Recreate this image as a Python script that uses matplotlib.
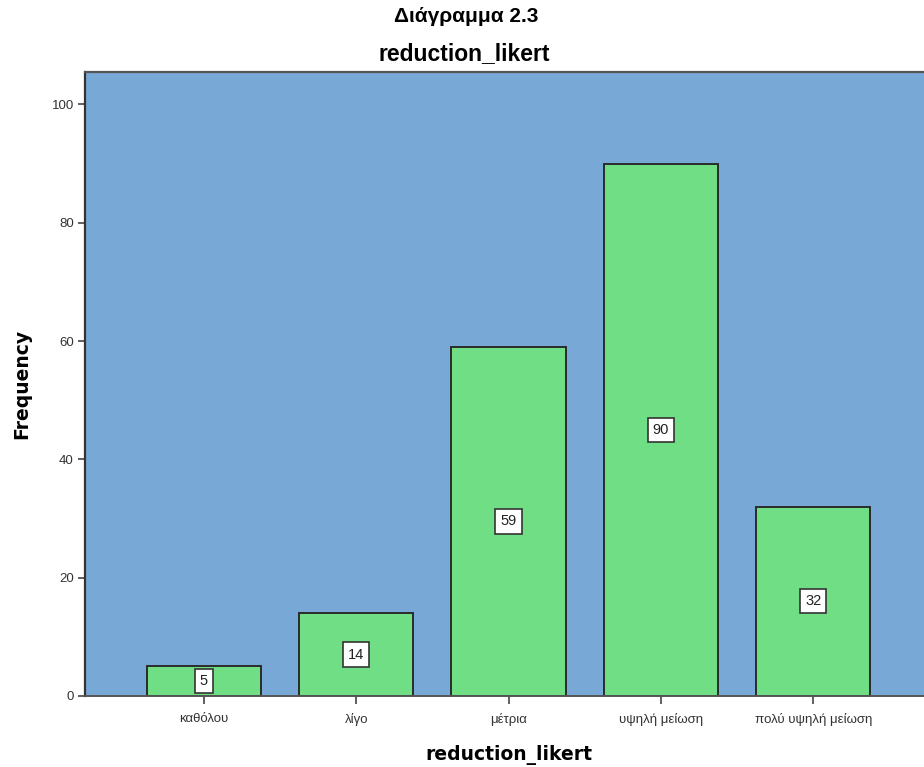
import matplotlib
import matplotlib.pyplot as plt

matplotlib.use('Agg')

# Κατηγορίες και συχνότητες
categories = ['καθόλου', 'λίγο', 'μέτρια', 'υψηλή μείωση', 'πολύ υψηλή μείωση']
frequencies = [5, 14, 59, 90, 32]
y_ticks = [0, 20, 40, 60, 80, 100]

bg_color = '#78a8d6'
bar_color = '#70de85'
edge_color = '#2b2b2b'

fig = plt.figure(figsize=(9.24, 7.67), dpi=100)
ax = fig.add_axes([0.092, 0.0926, 0.9167, 0.8136])
ax.set_facecolor(bg_color)

x = list(range(len(categories)))
ax.bar(x, frequencies, width=0.75, color=bar_color,
       edgecolor=edge_color, linewidth=1.4, zorder=2)

# Ετικέτες τιμών στο μέσο κάθε μπάρας
for xi, val in zip(x, frequencies):
    ax.text(xi, val / 2, str(val), ha='center', va='center',
            fontsize=10.5, family='Liberation Sans', color='#222222', zorder=3,
            bbox=dict(boxstyle='square,pad=0.35', facecolor='white',
                      edgecolor='#333333', linewidth=1.2))

ax.set_xlim(-0.78, 4.78)
ax.set_ylim(0, 105.5)
ax.set_xticks(x)
ax.set_xticklabels(categories, family='Liberation Sans', fontsize=9.5,
                   color='#333333')
ax.set_yticks(y_ticks)
ax.set_yticklabels([str(t) for t in y_ticks], family='Liberation Sans',
                   fontsize=9.5, color='#333333')
ax.tick_params(axis='both', direction='out', length=5, width=1.2,
               color='#444444', pad=3)
ax.tick_params(axis='x', length=6, pad=6)

ax.spines['right'].set_visible(False)
ax.spines['left'].set_color('#333333')
ax.spines['left'].set_linewidth(1.6)
ax.spines['top'].set_color('#555555')
ax.spines['top'].set_linewidth(1.6)
ax.spines['bottom'].set_color('#555555')
ax.spines['bottom'].set_linewidth(1.4)

ax.set_xlabel('reduction_likert', fontsize=13.5, fontweight='bold',
              family='DejaVu Sans', labelpad=14)
ax.set_ylabel('Frequency', fontsize=13.5, fontweight='bold',
              family='DejaVu Sans', labelpad=15)

fig.text(0.505, 0.978, 'Διάγραμμα 2.3', ha='center', va='center',
         fontsize=15, fontweight='bold', family='Liberation Sans')
fig.text(0.502, 0.93, 'reduction_likert', ha='center', va='center',
         fontsize=16.5, fontweight='bold', family='Liberation Sans')

fig.savefig('out.png', dpi=100)
